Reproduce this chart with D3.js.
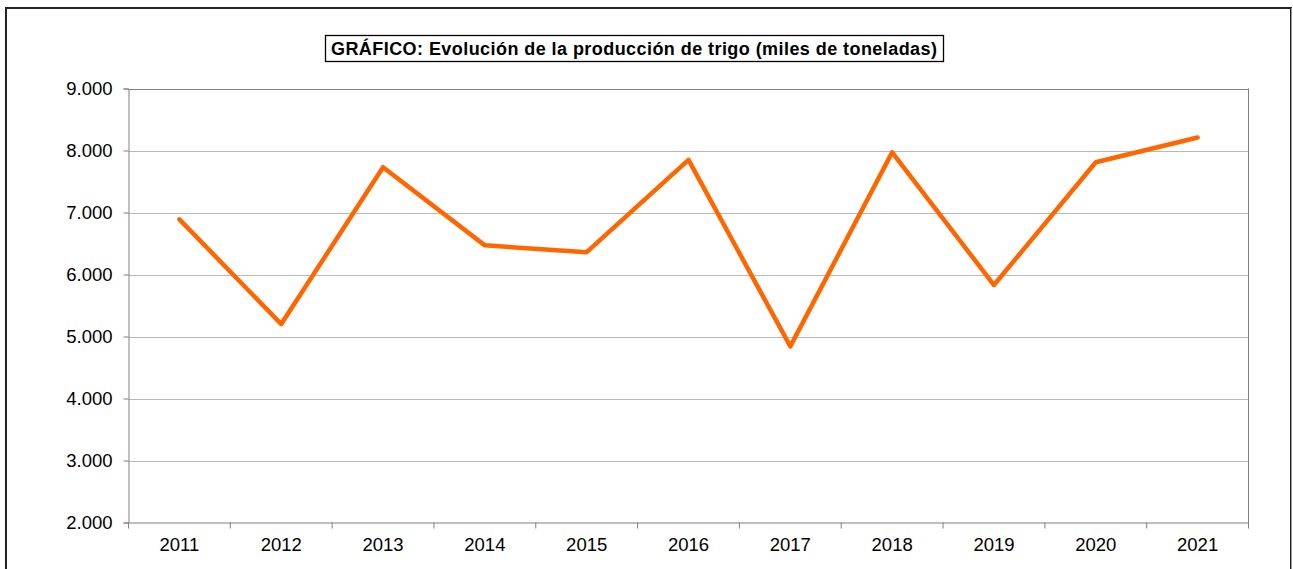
<!DOCTYPE html>
<html><head><meta charset="utf-8">
<script src="https://cdn.jsdelivr.net/npm/d3@7"></script>
<style>body{margin:0;background:#fff}svg{display:block}text{font-family:"Liberation Sans",Arial,sans-serif}</style>
</head><body>
<svg id="c" width="1293" height="569"></svg>
<script>
const years = ["2011","2012","2013","2014","2015","2016","2017","2018","2019","2020","2021"];
const production = [6890,5200,7730,6470,6360,7850,4840,7970,5830,7810,8210];
const yTicks = [2000,3000,4000,5000,6000,7000,8000,9000];
const titleText = "GRÁFICO: Evolución de la producción de trigo (miles de toneladas)";

const svg = d3.select("#c");
// outer frame
svg.append("rect").attr("x",6).attr("y",8).attr("width",1285).attr("height",580)
  .attr("fill","none").attr("stroke","#222").attr("stroke-width",2);
svg.append("line").attr("x1",1291.5).attr("x2",1291.5).attr("y1",8).attr("y2",569).attr("stroke","#999").attr("stroke-width",1);

const m = {l:128.5, r:1248.5, t:88.5, b:522.5};
const x = d3.scaleBand().domain(years).range([m.l,m.r]);
const y = d3.scaleLinear().domain([2000,9000]).range([m.b,m.t]);

// gridlines
svg.append("g").selectAll("line").data(yTicks.filter(d=>d>2000)).join("line")
  .attr("x1",m.l).attr("x2",m.r).attr("y1",d=>Math.round(y(d))+0.5).attr("y2",d=>Math.round(y(d))+0.5)
  .attr("stroke",d=>d===9000?"#808080":"#b8b8b8").attr("stroke-width",1);
// right border of plot
svg.append("line").attr("x1",m.r).attr("x2",m.r).attr("y1",m.t).attr("y2",m.b).attr("stroke","#808080");

// y axis
const ya = svg.append("g").attr("transform",`translate(${m.l},0)`)
  .call(d3.axisLeft(y).tickValues(yTicks).tickSize(5).tickPadding(11)
    .tickFormat(d=>d3.format(",")(d).replace(/,/g,".")));
ya.select(".domain").attr("stroke","#808080");
ya.selectAll(".tick line").attr("stroke","#808080");
ya.selectAll("text").attr("font-size",18.5).attr("fill","#000").style("font-family","Liberation Sans, Arial, sans-serif");

// x axis
const xa = svg.append("g").attr("transform",`translate(0,${m.b})`)
  .call(d3.axisBottom(x).tickSize(0).tickPadding(15));
xa.select(".domain").attr("stroke","#808080");
xa.selectAll("text").attr("font-size",18.5).attr("fill","#000").attr("dy","0.71em").style("font-family","Liberation Sans, Arial, sans-serif");
// boundary ticks
const bounds = years.map(d=>x(d)).concat([m.r]);
svg.append("g").selectAll("line").data(bounds).join("line")
  .attr("x1",d=>d).attr("x2",d=>d).attr("y1",m.b).attr("y2",m.b+6).attr("stroke","#808080");

// line
const line = d3.line().x((d,i)=>x(years[i])+x.bandwidth()/2).y(d=>y(d)).curve(d3.curveLinear);
svg.append("path").datum(production).attr("d",line).attr("fill","none")
  .attr("stroke","#ff6600").attr("stroke-width",4.5).attr("stroke-linejoin","round").attr("stroke-linecap","round");

// title
const tg = svg.append("g");
tg.append("rect").attr("x",325.5).attr("y",35.5).attr("width",618).attr("height",26)
  .attr("fill","#fff").attr("stroke","#000").attr("stroke-width",1.3);
tg.append("text").attr("x",331).attr("y",55).attr("text-anchor","start")
  .attr("font-size",18).attr("font-weight","bold")
  .attr("textLength",606).attr("lengthAdjust","spacing").text(titleText);
</script>
</body></html>
